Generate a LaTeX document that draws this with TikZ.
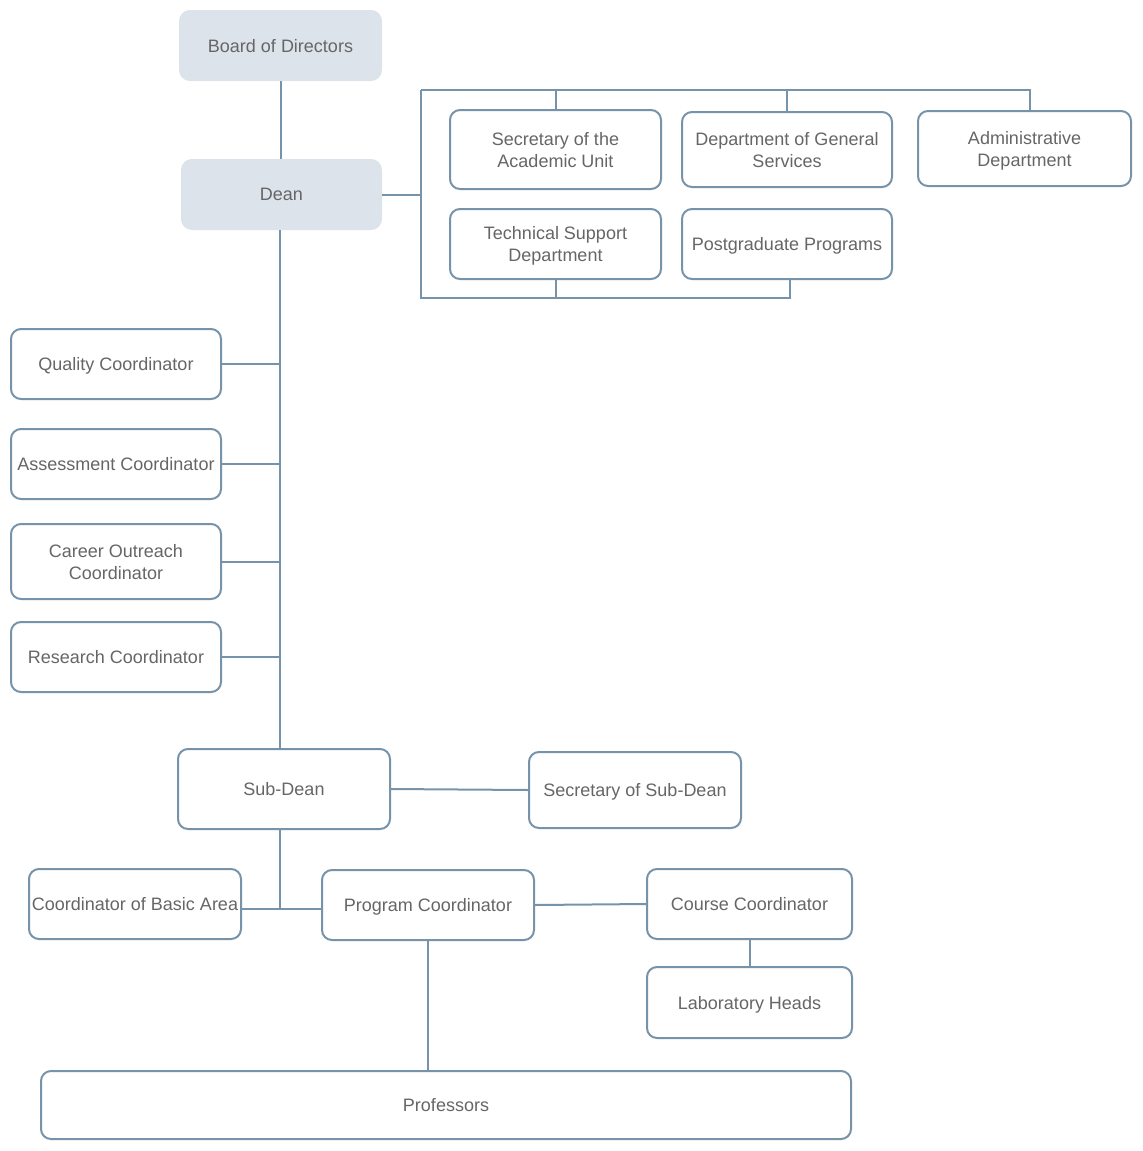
\documentclass[tikz,border=0pt]{standalone}
\usepackage{fontspec}
\setmainfont{Liberation Sans}
\definecolor{edge}{HTML}{7793A9}
\definecolor{txt}{HTML}{666666}
\definecolor{topfill}{HTML}{DCE3EA}
\tikzset{
  box/.style={draw=edge, line width=1pt, rounded corners=5pt, fill=white, text=txt,
    inner sep=0pt, text depth=0pt, align=center, font=\fontsize{9}{11}\selectfont},
  topbox/.style={box, draw=topfill, fill=topfill},
  conn/.style={draw=edge, line width=1pt}
}
\newcommand{\bx}[6]{\node[#1, minimum width=#4*0.5pt, minimum height=#5*0.5pt] (#2) at #3 {#6};}
\begin{document}
\begin{tikzpicture}[x=0.5pt,y=-0.5pt]
\useasboundingbox (0,0) rectangle (1143,1151);
\bx{topbox}{board}{(280.5,45.5)}{201}{69}{Board of Directors}
\bx{topbox}{dean}{(281.5,194.5)}{199}{69}{Dean}
\bx{box}{sec}{(555.5,149.5)}{211}{79}{Secretary of the\\Academic Unit}
\bx{box}{gen}{(787,149.5)}{210}{75}{Department of General\\Services}
\bx{box}{adm}{(1024.5,148.5)}{213}{75}{Administrative\\Department}
\bx{box}{tech}{(555.5,244)}{211}{70}{Technical Support\\Department}
\bx{box}{post}{(787,244)}{210}{70}{Postgraduate Programs}
\bx{box}{qual}{(116,364)}{210}{70}{Quality Coordinator}
\bx{box}{asse}{(116,464)}{210}{70}{Assessment Coordinator}
\bx{box}{care}{(116,561.5)}{210}{75}{Career Outreach\\Coordinator}
\bx{box}{rese}{(116,657)}{210}{70}{Research Coordinator}
\bx{box}{sub}{(284,789)}{212}{80}{Sub-Dean}
\bx{box}{ssub}{(635,790)}{212}{76}{Secretary of Sub-Dean}
\bx{box}{basic}{(135,904)}{212}{70}{Coordinator of Basic Area}
\bx{box}{prog}{(428,905)}{212}{70}{Program Coordinator}
\bx{box}{course}{(749.5,904)}{205}{70}{Course Coordinator}
\bx{box}{lab}{(749.5,1002.5)}{205}{71}{Laboratory Heads}
\bx{box}{prof}{(446,1105)}{810}{68}{Professors}
\coordinate (tl) at (421,90);
\coordinate (tr) at (1030,90);
\coordinate (bb) at (421,298);
\coordinate (br) at (790,298);
\coordinate (sp) at (280,500);
\coordinate (jn) at (280,909);
\path[conn] (board.south) -- (board.south |- dean.north);
\path[conn] (dean.east) -- (dean.east -| tl);
\path[conn] (tl) -- (bb) -- (br) -- (post.south -| br);
\path[conn] (tl) -- (tr) -- (adm.north -| tr);
\path[conn] (sec.north) -- (sec.north |- tl);
\path[conn] (gen.north) -- (gen.north |- tl);
\path[conn] (tech.south) -- (tech.south |- bb);
\path[conn] (dean.south -| sp) -- (sub.north -| sp);
\path[conn] (qual.east) -- (qual.east -| sp);
\path[conn] (asse.east) -- (asse.east -| sp);
\path[conn] (care.east) -- (care.east -| sp);
\path[conn] (rese.east) -- (rese.east -| sp);
\path[conn] (sub.east) -- (ssub.west);
\path[conn] (sub.south -| sp) -- (jn);
\path[conn] (basic.east |- jn) -- (prog.west |- jn);
\path[conn] (prog.east) -- (course.west);
\path[conn] (course.south) -- (lab.north);
\path[conn] (prog.south) -- (prof.north -| prog.south);
\end{tikzpicture}
\end{document}
